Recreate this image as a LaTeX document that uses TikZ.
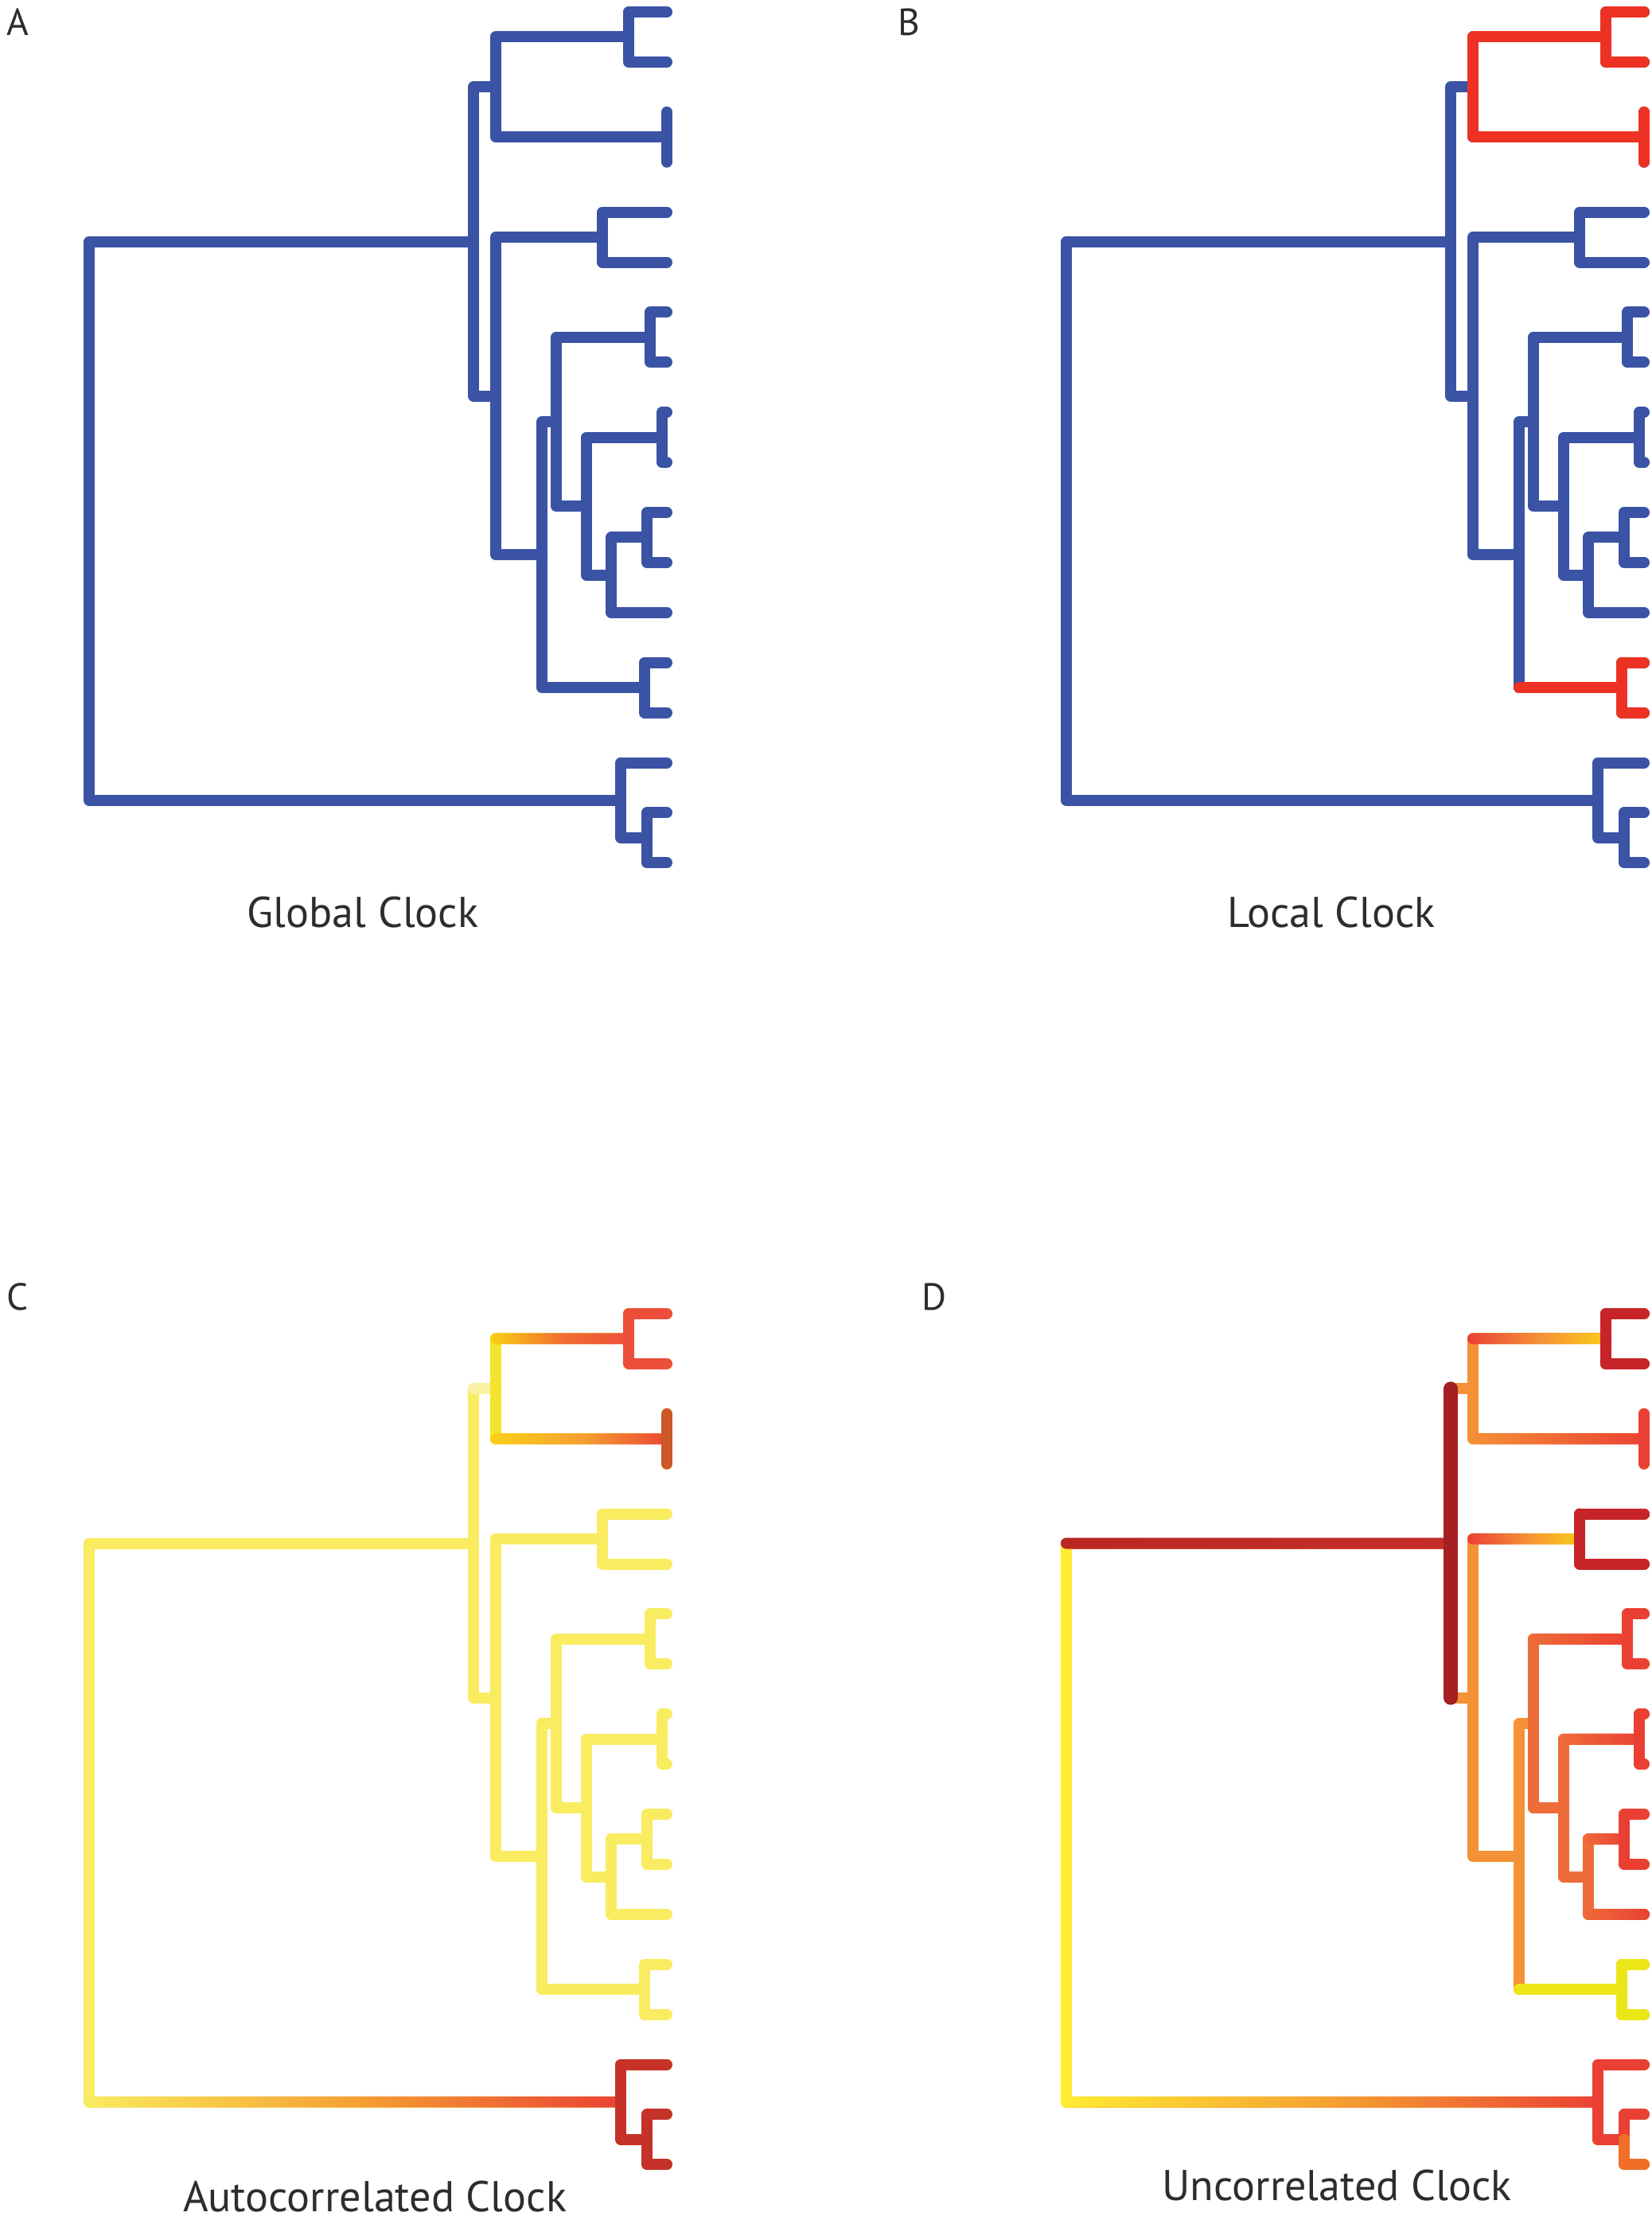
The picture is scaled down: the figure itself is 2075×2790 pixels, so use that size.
\documentclass[tikz,border=0pt]{standalone}
\usepackage{fontspec}
\setmainfont{PT Sans}
\usepackage{tikz}
\usetikzlibrary{calc}

\definecolor{labelgray}{RGB}{45,45,45}
\definecolor{clockblue}{RGB}{58,83,164}
\definecolor{clockred}{RGB}{237,50,36}
\definecolor{paleyellow}{RGB}{249,236,96}
\definecolor{stubyellow}{RGB}{250,241,165}
\definecolor{brightyellow}{RGB}{245,228,45}
\definecolor{gold}{RGB}{251,208,22}
\definecolor{amber}{RGB}{245,160,50}
\definecolor{flame}{RGB}{236,78,58}
\definecolor{rust}{RGB}{205,88,40}
\definecolor{brick}{RGB}{196,50,40}
\definecolor{tangerine}{RGB}{245,145,55}
\definecolor{lemon}{RGB}{255,236,50}
\definecolor{oxblood}{RGB}{165,32,32}
\definecolor{darkrust}{RGB}{185,40,36}
\definecolor{crimson}{RGB}{198,36,40}
\definecolor{vermilion}{RGB}{234,64,52}
\definecolor{coral}{RGB}{238,108,55}
\definecolor{citron}{RGB}{236,230,25}
\definecolor{ember}{RGB}{240,110,40}

% coordinates of one tree, in pixels of its panel
\newcommand{\clocktree}{%
  \foreach \i in {0,...,17} {\coordinate (l\i) at (838,{15+62.9*\i});}
  \coordinate (root) at (112,654.6);
  \coordinate (n1) at (595,303.5);
  \coordinate (n2) at (623,109.35);
  \coordinate (n3) at (623,497.6);
  \coordinate (n4) at (790,46.45);
  \coordinate (n5) at (838,172.25);
  \coordinate (n6) at (757,298.05);
  \coordinate (n7) at (681,697.1);
  \coordinate (n8) at (699,530);
  \coordinate (n9) at (810,864.15);
  \coordinate (n10) at (817,423.85);
  \coordinate (n11) at (737,636.1);
  \coordinate (n12) at (832,549.65);
  \coordinate (n13) at (768,722.6);
  \coordinate (n14) at (813,675.45);
  \coordinate (n15) at (780,1005.7);
  \coordinate (n16) at (813,1052.85);
}
\newcommand{\treebranches}{root/n1,root/n15,n1/n2,n1/n3,n2/n4,n2/n5,n4/l0,n4/l1,
  n5/l2,n5/l3,n3/n6,n3/n7,n6/l4,n6/l5,n7/n8,n7/n9,n8/n10,n8/n11,n10/l6,n10/l7,
  n11/n12,n11/n13,n12/l8,n12/l9,n13/n14,n13/l12,n14/l10,n14/l11,n9/l13,n9/l14,
  n15/l15,n15/n16,n16/l16,n16/l17}
% shaded horizontal part of a branch
\newcommand{\hbranch}[3][]{%
  \shade[#1, rounded corners=0.7mm] ($(#2 |- #3)+(-7,-7)$) rectangle ($(#3)+(7,7)$);}

\begin{document}
\begin{tikzpicture}[x=0.01cm, y=-0.01cm,
    branch/.style={line width=1.4mm, line cap=round, line join=round},
    panelletter/.style={anchor=base west, inner sep=0pt, text=labelgray, font=\fontsize{13.5pt}{16pt}\selectfont},
    clockname/.style={anchor=base, inner sep=0pt, text=labelgray, font=\fontsize{15.4pt}{18pt}\selectfont}
]
\path[fill=white, use as bounding box] (0,0) rectangle (2075,2790);

% Panel A: global clock
\begin{scope}[name prefix=A-]
  \clocktree
  \foreach \pa/\ch in \treebranches {\draw[branch, clockblue] (\pa) |- (\ch);}
\end{scope}

% Panel B: local clock
\begin{scope}[shift={(1228,0)}, name prefix=B-]
  \clocktree
  \foreach \pa/\ch in \treebranches {\draw[branch, clockblue] (\pa) |- (\ch);}
  \foreach \pa/\ch in {n2/n4,n2/n5,n4/l0,n4/l1,n5/l2,n5/l3,n9/l13,n9/l14}
    {\draw[branch, clockred] (\pa) |- (\ch);}
  \draw[branch, clockred] (n7 |- n9) -- (n9);
\end{scope}

% Panel C: autocorrelated clock
\begin{scope}[shift={(0,1636)}, name prefix=C-]
  \clocktree
  \foreach \pa/\ch in \treebranches {\draw[branch, paleyellow] (\pa) |- (\ch);}
  \draw[branch, stubyellow] (n1 |- n2) -- (n2);
  \draw[branch, brightyellow] (n2 |- n4) -- (n2 |- n5);
  \hbranch[left color=gold, right color=flame, middle color=flame!75!gold]{n2}{n4}
  \hbranch[left color=gold, right color=vermilion, middle color=amber]{n2}{n5}
  \hbranch[left color=paleyellow, right color=vermilion, middle color=amber]{root}{n15}
  \foreach \ch in {l0,l1} {\draw[branch, flame] (n4) |- (\ch);}
  \draw[branch, rust] (l2) -- (l3);
  \foreach \pa/\ch in {n15/l15,n15/n16,n16/l16,n16/l17}
    {\draw[branch, brick] (\pa) |- (\ch);}
\end{scope}

% Panel D: uncorrelated clock
\begin{scope}[shift={(1228,1636)}, name prefix=D-]
  \clocktree
  \foreach \pa/\ch in \treebranches {\draw[branch, tangerine] (\pa) |- (\ch);}
  \draw[branch, lemon] (root |- n1) -- (root |- n15);
  \hbranch[left color=darkrust, right color=darkrust!75!vermilion]{root}{n1}
  \hbranch[left color=lemon, right color=vermilion, middle color=amber]{root}{n15}
  \draw[branch, oxblood, line width=1.8mm] (n1 |- n2) -- (n1 |- n3);
  \hbranch[left color=vermilion, right color=gold, middle color=tangerine]{n2}{n4}
  \hbranch[left color=tangerine, right color=vermilion]{n2}{n5}
  \hbranch[left color=vermilion, right color=gold, middle color=tangerine]{n3}{n6}
  \foreach \ch in {l0,l1,l4,l5} {\draw[branch, crimson] (\ch -| n4) |- (\ch);}
  \draw[branch, crimson] (n4 |- l0) -- (n4 |- l1);
  \draw[branch, crimson] (n6 |- l4) -- (n6 |- l5) (n6 |- l4) -- (l4) (n6 |- l5) -- (l5);
  \draw[branch, vermilion] (l2) -- (l3);
  \foreach \pa/\ch in {n8/n10,n8/n11,n11/n12,n11/n13,n13/n14,n13/l12}
    {\draw[branch, coral] (\pa) |- (\ch);}
  \hbranch[left color=coral, right color=vermilion]{n8}{n10}
  \hbranch[left color=coral, right color=vermilion]{n11}{n12}
  \hbranch[left color=coral, right color=vermilion]{n13}{n14}
  \hbranch[left color=coral, right color=vermilion]{n13}{l12}
  \foreach \pa/\ch in {n10/l6,n10/l7,n12/l8,n12/l9,n14/l10,n14/l11}
    {\draw[branch, vermilion] (\pa) |- (\ch);}
  \draw[branch, citron] (n7 |- n9) -- (n9);
  \foreach \ch in {l13,l14} {\draw[branch, citron] (n9) |- (\ch);}
  \foreach \pa/\ch in {n15/l15,n15/n16,n16/l16}
    {\draw[branch, vermilion] (\pa) |- (\ch);}
  \draw[branch, ember] (n16) |- (l17);
\end{scope}

% Panel letters and titles
\node[panelletter] (tagA) at (8,44) {A};
\node[panelletter] (tagB) at (1128,44) {B};
\node[panelletter] (tagC) at (8,1646) {C};
\node[panelletter] (tagD) at (1158,1646) {D};
\node[clockname] (global) at (456,1165) {Global Clock};
\node[clockname] (local) at (1673,1165) {Local Clock};
\node[clockname] (auto) at (471,2779) {Autocorrelated Clock};
\node[clockname] (uncorr) at (1680,2765) {Uncorrelated Clock};

\end{tikzpicture}
\end{document}
